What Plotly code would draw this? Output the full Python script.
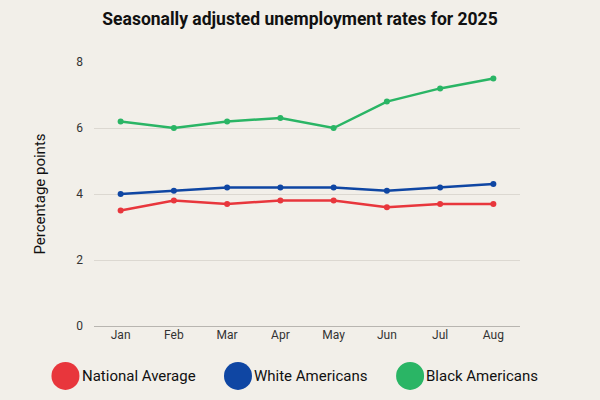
import plotly.graph_objects as go

months = ["Jan", "Feb", "Mar", "Apr", "May", "Jun", "Jul", "Aug"]
national = [3.5, 3.8, 3.7, 3.8, 3.8, 3.6, 3.7, 3.7]
white = [4.0, 4.1, 4.2, 4.2, 4.2, 4.1, 4.2, 4.3]
black = [6.2, 6.0, 6.2, 6.3, 6.0, 6.8, 7.2, 7.5]

series_names = ["National Average", "White Americans", "Black Americans"]
colors = ["#e8363c", "#0f46a3", "#2ab565"]

bg = "#f2efe9"
font = "Roboto"

fig = go.Figure()
for name, vals, col in zip(series_names, [national, white, black], colors):
    fig.add_trace(go.Scatter(
        x=months, y=vals, name=name, mode="lines+markers",
        line=dict(color=col, width=2.5),
        marker=dict(color=col, size=6),
        showlegend=False,
    ))

# custom legend with big circles
legend_x = [-0.067, 0.338, 0.742]
shapes = []
annotations = []
for name, col, lx in zip(series_names, colors, legend_x):
    shapes.append(dict(
        type="circle", xref="paper", yref="paper",
        xsizemode="pixel", ysizemode="pixel",
        xanchor=lx, yanchor=-0.189,
        x0=-14, x1=14, y0=-14, y1=14,
        fillcolor=col, line=dict(width=0),
    ))
    annotations.append(dict(
        text=name, xref="paper", yref="paper",
        x=lx + 0.033, y=-0.189, xanchor="left", yanchor="middle",
        showarrow=False, font=dict(family=font, size=15, color="#111"),
    ))

fig.update_layout(
    width=600, height=400,
    paper_bgcolor=bg, plot_bgcolor=bg,
    margin=dict(l=94, r=80, t=62, b=74),
    title=dict(
        text="<b>Seasonally adjusted unemployment rates for 2025</b>",
        x=0.5, xanchor="center", y=0.953, yanchor="middle",
        font=dict(family=font, size=17.5, color="#111"),
    ),
    font=dict(family=font, color="#333"),
    shapes=shapes,
    annotations=annotations,
)
fig.update_xaxes(
    range=[-0.5, 7.5], showgrid=False, showline=False, zeroline=False,
    tickfont=dict(size=12, color="#333"), ticks="",
)
fig.update_yaxes(
    range=[0, 8], dtick=2, showgrid=True, gridcolor="#dcd8d1", gridwidth=1,
    zeroline=True, zerolinecolor="#b8b5b0", zerolinewidth=1.2,
    tickfont=dict(size=12, color="#333"), ticks="", ticklabelstandoff=10,
    title=dict(text="Percentage points", font=dict(size=15, color="#111"), standoff=27),
)

fig.write_html("out.html", config={"displayModeBar": False},
               post_script="document.body.style.margin='0';")
